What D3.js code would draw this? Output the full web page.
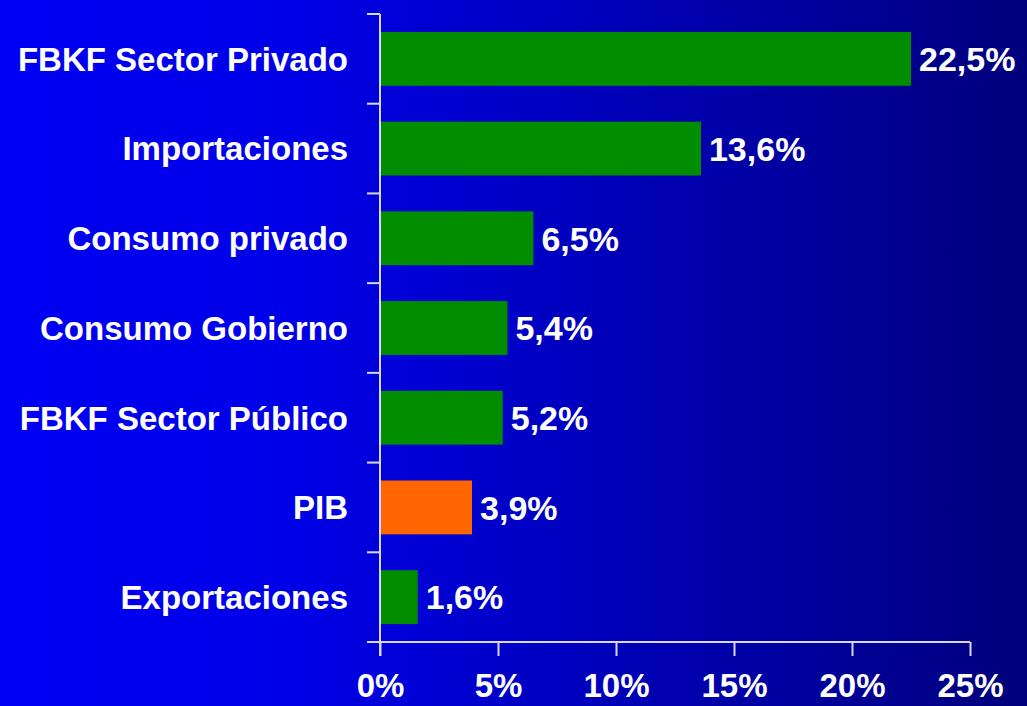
<!DOCTYPE html>
<html>
<head>
<meta charset="utf-8">
<script src="https://cdn.jsdelivr.net/npm/d3@7"></script>
<style>
  html, body { margin: 0; padding: 0; background: #0000c8; }
  svg { display: block; }
  text { font-family: "Liberation Sans", Arial, sans-serif; font-weight: bold; fill: #fff; }
</style>
</head>
<body>
<div class="chart"></div>
<script>
const categories = ["FBKF Sector Privado", "Importaciones", "Consumo privado", "Consumo Gobierno",
                    "FBKF Sector Público", "PIB", "Exportaciones"];
const values = [22.5, 13.6, 6.5, 5.4, 5.2, 3.9, 1.6];
const highlight = ["PIB"];
const xTicks = [0, 5, 10, 15, 20, 25];

const width = 1027, height = 706;
const margin = {top: 14, right: 57, bottom: 64, left: 380};

const svg = d3.select(".chart").append("svg")
    .attr("width", width)
    .attr("height", height);

// background gradient, bright blue to navy
const grad = svg.append("defs").append("linearGradient")
    .attr("id", "bg")
    .attr("x1", "0%").attr("x2", "100%")
    .attr("y1", "0%").attr("y2", "0%");
grad.append("stop").attr("offset", "0%").attr("stop-color", "#0000f4");
grad.append("stop").attr("offset", "28%").attr("stop-color", "#0000e8");
grad.append("stop").attr("offset", "100%").attr("stop-color", "#00007c");

svg.append("rect")
    .attr("width", width)
    .attr("height", height)
    .attr("fill", "url(#bg)");

const x = d3.scaleLinear()
    .domain([0, 25])
    .range([margin.left, width - margin.right]);

const y = d3.scaleBand()
    .domain(categories)
    .range([margin.top, height - margin.bottom])
    .paddingInner(0.4)
    .paddingOuter(0.2);

const g = svg.append("g");

// bars
g.selectAll("rect.bar")
  .data(categories)
  .join("rect")
    .attr("class", "bar")
    .attr("x", x(0))
    .attr("y", d => y(d))
    .attr("width", (d, i) => x(values[i]) - x(0))
    .attr("height", y.bandwidth())
    .attr("fill", d => highlight.includes(d) ? "#ff6600" : "#008e00");

// value labels
g.selectAll("text.val")
  .data(categories)
  .join("text")
    .attr("class", "val")
    .attr("x", (d, i) => x(values[i]) + 8)
    .attr("y", d => y(d) + y.bandwidth() / 2)
    .attr("dy", "0.36em")
    .style("font-size", "34px")
    .text((d, i) => d3.format(".1f")(values[i]).replace(".", ",") + "%");

// category labels
g.selectAll("text.cat")
  .data(categories)
  .join("text")
    .attr("class", "cat")
    .attr("x", 348)
    .attr("y", d => y(d) + y.bandwidth() / 2)
    .attr("dy", "0.36em")
    .attr("text-anchor", "end")
    .style("font-size", "33px")
    .text(d => d);

const axisColor = "#d8d8f4";
const y0 = height - margin.bottom;

// y axis line + ticks at band boundaries
g.append("line")
    .attr("x1", x(0)).attr("x2", x(0))
    .attr("y1", margin.top).attr("y2", y0 + 14)
    .attr("stroke", axisColor).attr("stroke-width", 2);

const step = y.step();
const bounds = d3.range(categories.length).map(i => margin.top + i * step);
g.selectAll("line.ytick")
  .data(bounds)
  .join("line")
    .attr("class", "ytick")
    .attr("x1", x(0) - 13).attr("x2", x(0))
    .attr("y1", d => d).attr("y2", d => d)
    .attr("stroke", axisColor).attr("stroke-width", 2);

// x axis
const xAxis = g.append("g")
    .attr("transform", `translate(0,${y0})`)
    .call(d3.axisBottom(x).tickValues(xTicks).tickSize(14).tickSizeOuter(0)
          .tickFormat(d => d + "%"));
xAxis.select(".domain").remove();
xAxis.append("line")
    .attr("x1", x(0) - 13).attr("x2", x(25))
    .attr("stroke", axisColor).attr("stroke-width", 2);
xAxis.selectAll(".tick line").attr("stroke", axisColor).attr("stroke-width", 2);
xAxis.selectAll(".tick text")
    .attr("fill", "#fff")
    .attr("y", 32)
    .attr("dy", "0.71em")
    .style("font-size", "33px")
    .style("font-family", "'Liberation Sans', Arial, sans-serif")
    .style("font-weight", "bold");
</script>
</body>
</html>
